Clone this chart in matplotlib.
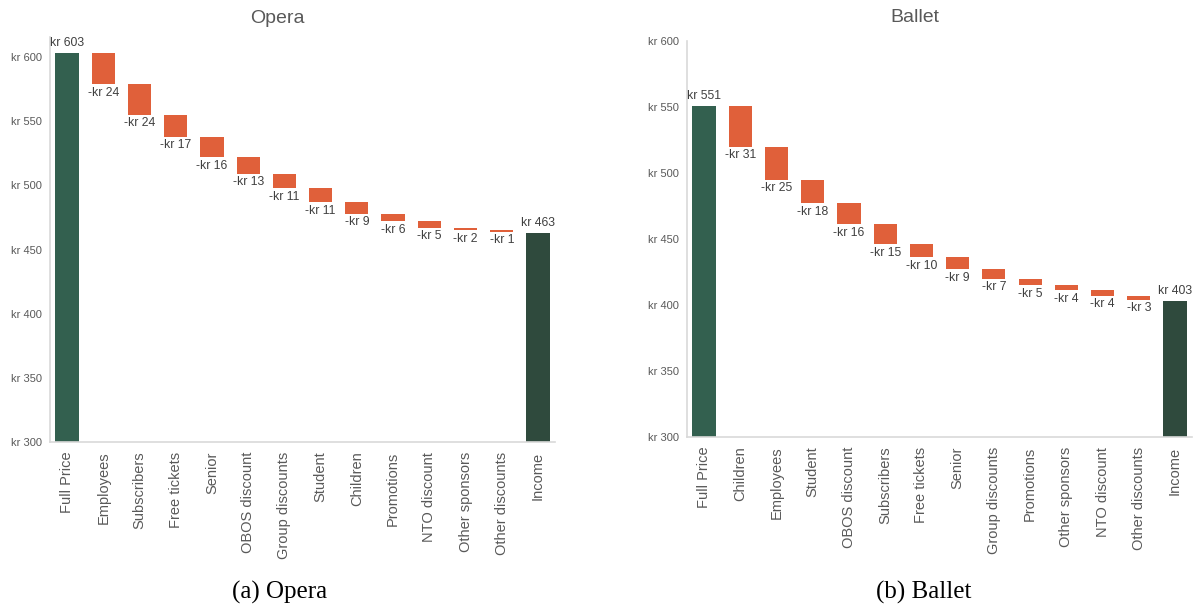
import matplotlib
matplotlib.use("Agg")
import matplotlib.pyplot as plt
import numpy as np

# dados (kr)
opera_cats = ["Full Price", "Employees", "Subscribers", "Free tickets", "Senior",
              "OBOS discount", "Group discounts", "Student", "Children", "Promotions",
              "NTO discount", "Other sponsors", "Other discounts", "Income"]
opera_full = 603
opera_desc = [24, 24, 17, 16, 13, 11, 11, 9, 6, 5, 2, 1]
opera_income = 463

ballet_cats = ["Full Price", "Children", "Employees", "Student", "OBOS discount",
               "Subscribers", "Free tickets", "Senior", "Group discounts", "Promotions",
               "Other sponsors", "NTO discount", "Other discounts", "Income"]
ballet_full = 551
ballet_desc = [31, 25, 18, 16, 15, 10, 9, 7, 5, 4, 4, 3]
ballet_income = 403

yticks = [300, 350, 400, 450, 500, 550, 600]

verde = "#33604f"
verde_escuro = "#2f4a3d"
laranja = "#e0603a"
cinza = "#595959"
cinza_linha = "#d9d9d9"

plt.rcParams['font.family'] = ['Liberation Sans', 'DejaVu Sans']


def cascata(ax, cats, full, desc, income, ymax):
    n = len(cats)
    x = np.arange(n)
    w = 0.64
    # barra inicial
    ax.bar(x[0], full, width=w, color=verde, zorder=1)
    ax.text(x[0], full + 3, "kr %d" % full, ha="center", va="bottom",
            fontsize=8.8, color="#404040")
    topo = full
    for i, d in enumerate(desc):
        base = topo - d
        ax.bar(x[i + 1], d, bottom=base, width=w, color=laranja, zorder=1)
        ax.text(x[i + 1], base - 2, "-kr %d" % d, ha="center", va="top",
                fontsize=8.8, color="#404040")
        topo = base
    # barra final
    ax.bar(x[-1], income, width=w, color=verde_escuro, zorder=1)
    ax.text(x[-1], income + 3, "kr %d" % income, ha="center", va="bottom",
            fontsize=8.8, color="#404040")

    ax.set_xlim(-0.47, n - 1 + 0.47)
    ax.set_ylim(300, ymax)
    ax.set_yticks(yticks)
    ax.set_yticklabels(["kr %d" % v for v in yticks], fontsize=8, color=cinza)
    ax.set_xticks(x)
    ax.set_xticklabels(cats, rotation=90, fontsize=10.5, color=cinza)
    ax.tick_params(axis="both", length=0)
    ax.tick_params(axis="x", pad=7)
    ax.tick_params(axis="y", pad=6)
    for s in ["top", "right"]:
        ax.spines[s].set_visible(False)
    for s in ["left", "bottom"]:
        ax.spines[s].set_color(cinza_linha)
        ax.spines[s].set_linewidth(1.2)


fig = plt.figure(figsize=(11.99, 6.09), dpi=100)

ax1 = fig.add_axes([0.0417, 0.2742, 0.4212, 0.665])
cascata(ax1, opera_cats, opera_full, opera_desc, opera_income, 615.6)

ax2 = fig.add_axes([0.573, 0.2824, 0.4212, 0.6503])
cascata(ax2, ballet_cats, ballet_full, ballet_desc, ballet_income, 600)

# titulos dos graficos
fig.text(277 / 1199, 1 - 18.5 / 609, "Opera", ha="center", va="center",
         fontsize=14, color=cinza)
fig.text(915 / 1199, 1 - 17 / 609, "Ballet", ha="center", va="center",
         fontsize=14, color=cinza)

# legendas em baixo
fig.text(280 / 1199, 1 - 592 / 609, "(a) Opera", ha="center", va="center",
         fontsize=18, family="Liberation Serif", color="black")
fig.text(924 / 1199, 1 - 592 / 609, "(b) Ballet", ha="center", va="center",
         fontsize=18, family="Liberation Serif", color="black")

fig.savefig("out.png", dpi=100)
